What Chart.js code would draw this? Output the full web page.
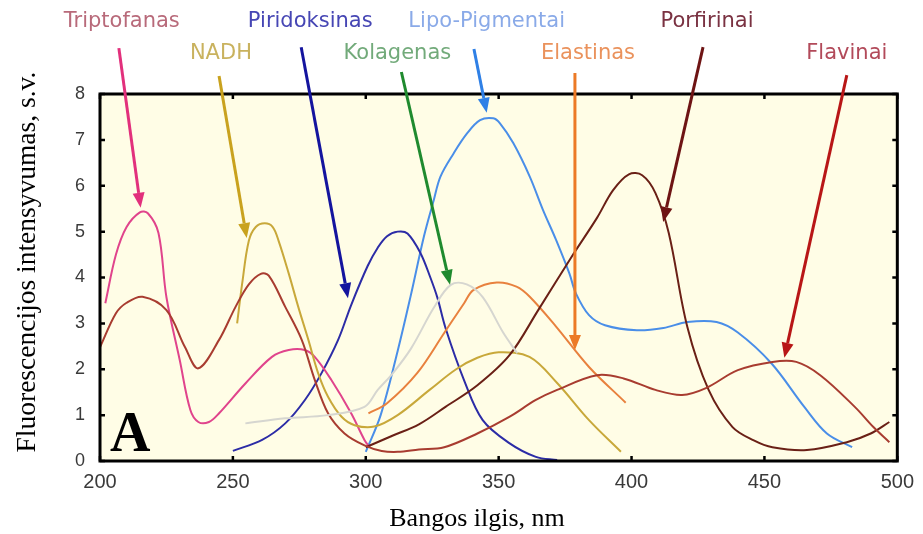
<!DOCTYPE html>
<html>
<head>
<meta charset="utf-8">
<script src="https://cdn.jsdelivr.net/npm/chart.js@4"></script>
<style>
  html, body { margin: 0; padding: 0; background: #ffffff; }
  #wrap { width: 923px; height: 534px; }
</style>
</head>
<body>
<div id="wrap"><canvas id="c" width="923" height="534"></canvas></div>
<script>
// Axis ticks
const wavelengthTicks = [200, 250, 300, 350, 400, 450, 500];
const intensityTicks = [0, 1, 2, 3, 4, 5, 6, 7, 8];

// Fluorophore names
const fluorophores = ['Triptofanas', 'NADH', 'Piridoksinas', 'Kolagenas', 'Lipo-Pigmentai', 'Elastinas', 'Porfirinai', 'Flavinai'];

// Emission spectra: wavelength (nm) and intensity (a.u.)
const kolagenasX = [254.7, 269.7, 285.8, 299.5, 304.5, 310, 317, 325.7, 332, 338, 344, 351.8, 357];
const kolagenasY = [0.82, 0.93, 1.0, 1.18, 1.55, 1.9, 2.45, 3.35, 3.84, 3.85, 3.57, 2.79, 2.35];

const triptofanasX = [202, 206, 210, 215, 218, 222, 225, 230, 234, 237, 241, 244.8, 254.7, 264.7, 271, 277, 280.8, 287, 294.5, 299.5, 301.5];
const triptofanasY = [3.44, 4.5, 5.1, 5.42, 5.4, 4.97, 3.57, 2.2, 1.11, 0.85, 0.85, 1.04, 1.69, 2.27, 2.42, 2.42, 2.27, 1.77, 1.04, 0.46, 0.3];

const nadhX = [251.6, 253.5, 256, 258.6, 262, 265, 267.2, 271, 274.6, 278.4, 282.1, 285.8, 290.8, 295.8, 303.2, 312, 324, 334, 342, 350, 361.6, 372, 384, 396];
const nadhY = [3.0, 3.87, 4.8, 5.1, 5.18, 5.1, 4.8, 4.09, 3.36, 2.64, 1.91, 1.4, 0.97, 0.78, 0.75, 1.0, 1.55, 2.0, 2.25, 2.37, 2.27, 1.7, 0.89, 0.2];

const piridoksinasX = [250, 261, 269.7, 277.1, 283.3, 289.6, 294.5, 300.7, 304.5, 308, 312, 315.7, 320.6, 324.3, 327, 330, 337, 344, 354, 364, 372];
const piridoksinasY = [0.22, 0.46, 0.82, 1.33, 1.91, 2.64, 3.4, 4.25, 4.65, 4.9, 5.0, 4.96, 4.53, 4.0, 3.55, 2.9, 1.76, 0.89, 0.39, 0.09, 0.02];

const lipoX = [300, 305.6, 312, 316.9, 321.9, 325.6, 328.1, 333.1, 338.1, 343, 348, 350.5, 355.5, 361.7, 366.7, 371.6, 376.6, 379.1, 384, 390, 402, 412, 421, 432, 440, 452.6, 465, 473.5, 483];
const lipoY = [0.2, 1.0, 2.4, 3.6, 4.9, 5.69, 6.2, 6.71, 7.14, 7.43, 7.47, 7.36, 6.93, 6.2, 5.47, 4.82, 4.09, 3.65, 3.18, 2.96, 2.85, 2.9, 3.03, 3.03, 2.8, 2.13, 1.18, 0.6, 0.3];

const elastinasX = [301, 308, 319.4, 329.5, 337, 340.6, 349.3, 356.7, 361.7, 371.6, 384, 397.8];
const elastinasY = [1.04, 1.26, 1.92, 2.79, 3.44, 3.73, 3.89, 3.8, 3.58, 2.93, 2.05, 1.27];

const porfirinaiX = [300, 310, 320, 330, 342, 354, 365, 378, 387, 393, 399, 404, 409, 414, 421, 429, 438, 446, 453, 466, 481, 490, 497];
const porfirinaiY = [0.3, 0.55, 0.8, 1.18, 1.65, 2.3, 3.3, 4.5, 5.3, 5.9, 6.25, 6.23, 5.84, 4.97, 2.92, 1.55, 0.74, 0.45, 0.3, 0.24, 0.41, 0.6, 0.85];

const flavinaiX = [200, 206, 210, 216, 225, 232, 237, 244.8, 251, 256, 260.5, 263.5, 269.7, 275.9, 280.8, 285.8, 292, 299.5, 306, 312, 320, 329.5, 342, 354, 364, 372, 387, 397, 409, 419, 428, 440, 453, 462, 471, 484, 491, 497];
const flavinaiY = [2.48, 3.22, 3.45, 3.58, 3.29, 2.48, 2.02, 2.64, 3.36, 3.85, 4.08, 4.04, 3.36, 2.64, 1.77, 1.04, 0.6, 0.34, 0.22, 0.2, 0.25, 0.3, 0.6, 0.96, 1.33, 1.55, 1.87, 1.8, 1.55, 1.44, 1.59, 1.98, 2.16, 2.16, 1.87, 1.18, 0.74, 0.41];

// Callout arrows (tail and head, in wavelength / intensity units) and label anchors
const arrowTailX = [207.1, 244.8, 275.7, 313.4, 340.7, 378.7, 426.9, 481.0];
const arrowTailY = [9.0, 8.39, 9.02, 8.48, 8.98, 8.46, 9.02, 8.41];
const arrowHeadX = [215.3, 255.2, 293.3, 331.7, 345.5, 378.7, 411.9, 457.5];
const arrowHeadY = [5.52, 4.86, 3.55, 3.84, 7.59, 2.42, 5.21, 2.25];
const labelX = [208.2, 245.5, 279.1, 311.9, 345.5, 383.6, 428.4, 481.0];
const labelY = [9.57, 8.89, 9.57, 8.89, 9.57, 8.89, 9.57, 8.89];

const arrowColors = ['#e2307c', '#c9a21e', '#14149e', '#1f8a2e', '#2f80e6', '#ec7a26', '#6e1414', '#b81616'];
const labelColors = ['#b86a7a', '#c9b25e', '#4646b4', '#72aa7a', '#8aaae8', '#ea925c', '#7a3242', '#b24a5a'];

function pts(xs, ys) { return xs.map((x, i) => ({ x: x, y: ys[i] })); }

function series(label, xs, ys, color) {
  return {
    label: label,
    data: pts(xs, ys),
    borderColor: color,
    borderWidth: 2,
    pointRadius: 0,
    fill: false,
    tension: 0.35
  };
}

const datasets = [
  series('Kolagenas', kolagenasX, kolagenasY, '#d6d6d0'),
  series('Flavinai', flavinaiX, flavinaiY, '#a83c30'),
  series('Porfirinai', porfirinaiX, porfirinaiY, '#6a2016'),
  series('NADH', nadhX, nadhY, '#c8a83a'),
  series('Elastinas', elastinasX, elastinasY, '#e8813e'),
  series('Triptofanas', triptofanasX, triptofanasY, '#e0448c'),
  series('Piridoksinas', piridoksinasX, piridoksinasY, '#2c2ca6'),
  series('Lipo-Pigmentai', lipoX, lipoY, '#4a8ee8')
];

const decorations = {
  id: 'decorations',
  beforeDatasetsDraw(chart) {
    const { ctx, chartArea: a } = chart;
    ctx.save();
    ctx.fillStyle = '#fffde6';
    ctx.fillRect(a.left, a.top, a.right - a.left, a.bottom - a.top);
    ctx.restore();
  },
  afterDatasetsDraw(chart) {
    const { ctx, chartArea: a, scales: { x, y } } = chart;
    ctx.save();

    // inward tick marks on all four sides
    ctx.strokeStyle = '#000';
    ctx.lineWidth = 2.5;
    ctx.beginPath();
    wavelengthTicks.forEach(v => {
      const px = x.getPixelForValue(v);
      ctx.moveTo(px, a.top); ctx.lineTo(px, a.top + 5);
      ctx.moveTo(px, a.bottom); ctx.lineTo(px, a.bottom - 5);
    });
    intensityTicks.forEach(v => {
      const py = y.getPixelForValue(v);
      ctx.moveTo(a.left, py); ctx.lineTo(a.left + 5, py);
      ctx.moveTo(a.right, py); ctx.lineTo(a.right - 5, py);
    });
    ctx.stroke();

    // frame
    ctx.lineWidth = 3;
    ctx.strokeRect(a.left, a.top, a.right - a.left, a.bottom - a.top);

    // panel letter
    ctx.fillStyle = '#000';
    ctx.font = 'bold 56px "Liberation Serif", "DejaVu Serif", serif';
    ctx.textAlign = 'left';
    ctx.textBaseline = 'alphabetic';
    ctx.fillText('A', a.left + 10, a.bottom - 10);

    // callout arrows
    fluorophores.forEach((name, i) => {
      const x0 = x.getPixelForValue(arrowTailX[i]);
      const y0 = y.getPixelForValue(arrowTailY[i]);
      const x1 = x.getPixelForValue(arrowHeadX[i]);
      const y1 = y.getPixelForValue(arrowHeadY[i]);
      const ang = Math.atan2(y1 - y0, x1 - x0);
      const headLen = 15, headHalf = 6;
      const bx = x1 - headLen * Math.cos(ang);
      const by = y1 - headLen * Math.sin(ang);
      ctx.strokeStyle = arrowColors[i];
      ctx.fillStyle = arrowColors[i];
      ctx.lineWidth = 3;
      ctx.lineCap = 'butt';
      ctx.beginPath();
      ctx.moveTo(x0, y0);
      ctx.lineTo(bx, by);
      ctx.stroke();
      ctx.beginPath();
      ctx.moveTo(x1, y1);
      ctx.lineTo(bx + headHalf * Math.sin(ang), by - headHalf * Math.cos(ang));
      ctx.lineTo(bx - headHalf * Math.sin(ang), by + headHalf * Math.cos(ang));
      ctx.closePath();
      ctx.fill();

      // name label
      ctx.font = '21px "DejaVu Sans", "Noto Sans", sans-serif';
      ctx.textAlign = 'center';
      ctx.textBaseline = 'middle';
      ctx.fillStyle = labelColors[i];
      ctx.fillText(name, x.getPixelForValue(labelX[i]), y.getPixelForValue(labelY[i]));
    });

    // axis titles
    ctx.fillStyle = '#000';
    ctx.font = '26px "Liberation Serif", "DejaVu Serif", serif';
    ctx.textAlign = 'center';
    ctx.textBaseline = 'middle';
    ctx.fillText('Bangos ilgis, nm', 477, 519);
    ctx.font = '27.5px "Liberation Serif", "DejaVu Serif", serif';
    ctx.translate(28, 262);
    ctx.rotate(-Math.PI / 2);
    ctx.fillText('Fluorescencijos intensyvumas, s.v.', 0, 0);
    ctx.restore();
  }
};

new Chart(document.getElementById('c'), {
  type: 'line',
  data: { datasets: datasets },
  plugins: [decorations],
  options: {
    responsive: false,
    animation: false,
    layout: { padding: { left: 0, right: 19, top: 94, bottom: 0 } },
    plugins: { legend: { display: false }, tooltip: { enabled: false } },
    scales: {
      x: {
        type: 'linear',
        min: 200, max: 500,
        afterBuildTicks: s => { s.ticks = wavelengthTicks.map(v => ({ value: v })); },
        afterFit: s => { s.height = 73; },
        grid: { display: false, drawTicks: false },
        border: { display: false },
        ticks: {
          color: '#3a3a3a',
          font: { family: '"Liberation Sans", Arial, sans-serif', size: 20 },
          padding: 9,
          maxRotation: 0,
          autoSkip: false
        }
      },
      y: {
        type: 'linear',
        min: 0, max: 8,
        afterBuildTicks: s => { s.ticks = intensityTicks.map(v => ({ value: v })); },
        afterFit: s => { s.width = 100; },
        grid: { display: false, drawTicks: false },
        border: { display: false },
        ticks: {
          color: '#3a3a3a',
          font: { family: '"Liberation Sans", Arial, sans-serif', size: 18 },
          padding: 15,
          autoSkip: false
        }
      }
    }
  }
});
</script>
</body>
</html>
